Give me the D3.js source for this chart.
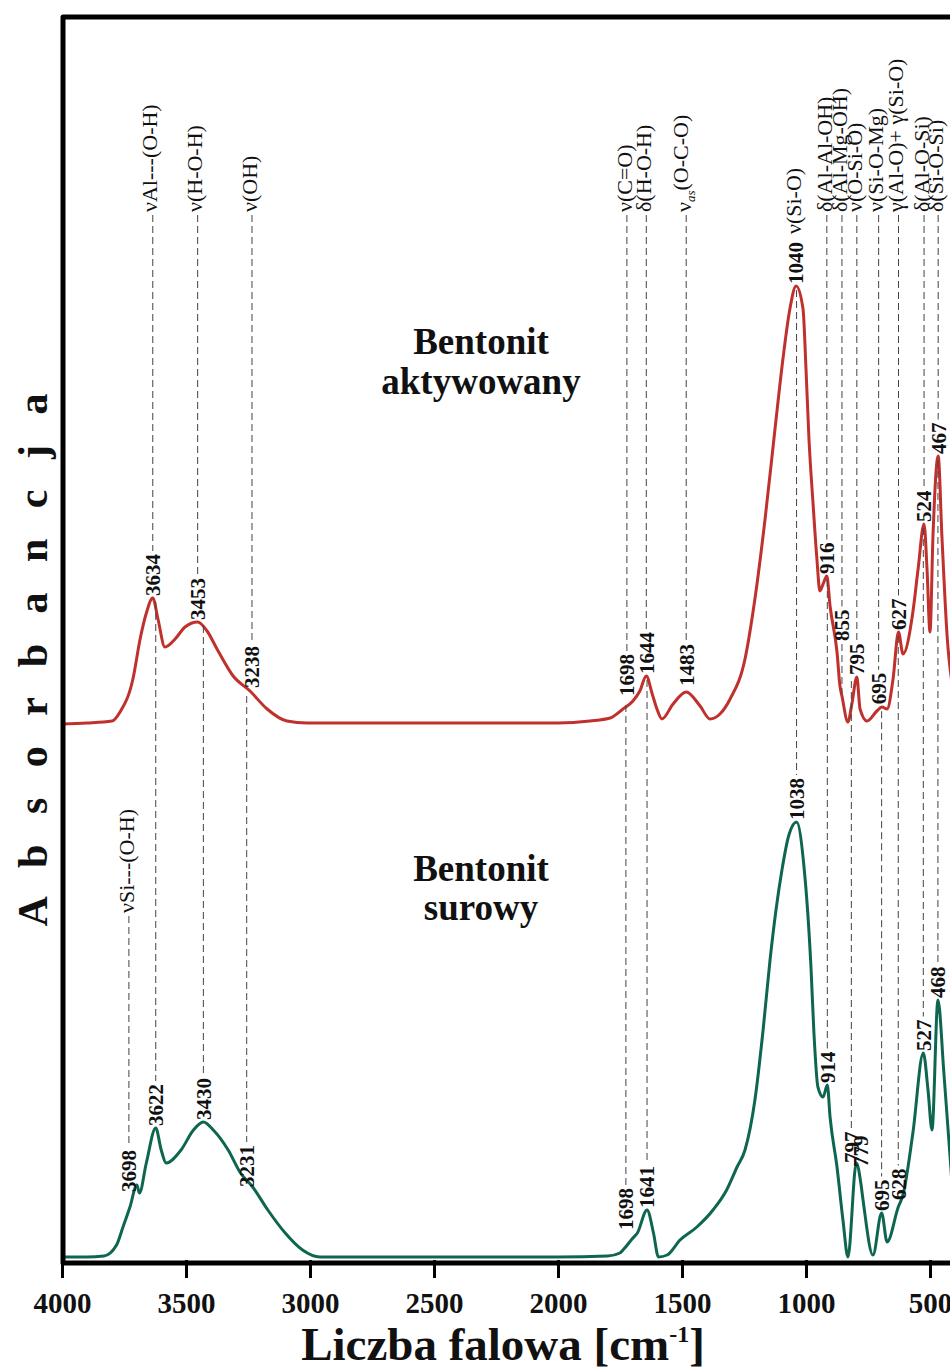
<!DOCTYPE html>
<html>
<head>
<meta charset="utf-8">
<script src="https://cdn.jsdelivr.net/npm/d3@7"></script>
<style>
  body { margin: 0; background: #fff; }
  svg { display: block; }
  text { font-family: "Liberation Serif", "Times New Roman", serif; fill: #111; }
</style>
</head>
<body>
<script>
// FTIR spectra, values (wavenumber in cm-1, absorbance in arbitrary units)

// activated bentonite (drawn on top, shifted up by redOffset)
var redWave = [4000, 3900, 3798, 3766, 3714, 3685, 3661, 3634, 3613, 3585, 3544, 3504, 3453, 3415, 3375, 3310, 3242, 3173, 3093, 3012, 2500, 2000, 1871, 1790, 1738, 1698, 1670, 1644, 1620, 1601, 1581, 1536, 1483, 1427, 1387, 1347, 1306, 1246, 1206, 1165, 1125, 1093, 1065, 1040, 1012, 1000, 988, 972, 956, 944, 931, 916, 903, 875, 863, 855, 831, 815, 795, 782, 754, 714, 694, 673, 649, 627, 609, 569, 548, 524, 512, 500, 488, 467, 452, 431, 400];
var redAbs = [0, 0.001, 0.003, 0.012, 0.045, 0.085, 0.110, 0.126, 0.105, 0.077, 0.085, 0.097, 0.102, 0.093, 0.075, 0.048, 0.033, 0.015, 0.003, 0.001, 0.001, 0.001, 0.003, 0.006, 0.015, 0.023, 0.033, 0.048, 0.030, 0.015, 0.005, 0.020, 0.032, 0.018, 0.005, 0.010, 0.025, 0.065, 0.125, 0.205, 0.295, 0.365, 0.415, 0.438, 0.415, 0.355, 0.285, 0.222, 0.165, 0.133, 0.140, 0.148, 0.118, 0.072, 0.038, 0.028, 0.002, 0.020, 0.047, 0.015, 0.003, 0.013, 0.017, 0.015, 0.045, 0.092, 0.070, 0.112, 0.155, 0.200, 0.155, 0.092, 0.188, 0.268, 0.188, 0.088, 0.025];
var redOffset = 0.533;

// raw bentonite
var greenWave = [4000, 3900, 3831, 3780, 3754, 3726, 3698, 3688, 3660, 3622, 3600, 3580, 3520, 3470, 3430, 3390, 3330, 3280, 3231, 3170, 3100, 3030, 2960, 2500, 2000, 1800, 1750, 1738, 1698, 1680, 1641, 1615, 1595, 1560, 1508, 1440, 1375, 1320, 1278, 1246, 1206, 1173, 1145, 1121, 1097, 1069, 1038, 1008, 980, 968, 952, 931, 914, 903, 875, 851, 831, 797, 779, 770, 730, 695, 673, 628, 609, 569, 527, 508, 492, 468, 444, 416, 400];
var greenAbs = [0, 0, 0.001, 0.012, 0.030, 0.050, 0.072, 0.064, 0.094, 0.129, 0.107, 0.094, 0.107, 0.127, 0.135, 0.127, 0.107, 0.084, 0.070, 0.047, 0.024, 0.007, 0, 0, 0, 0.001, 0.004, 0.007, 0.019, 0.024, 0.047, 0.024, 0, 0.002, 0.017, 0.030, 0.047, 0.067, 0.090, 0.107, 0.157, 0.227, 0.297, 0.347, 0.387, 0.422, 0.435, 0.390, 0.290, 0.224, 0.170, 0.160, 0.172, 0.140, 0.090, 0.037, 0, 0.094, 0.074, 0.057, 0.002, 0.044, 0.015, 0.050, 0.062, 0.124, 0.204, 0.167, 0.127, 0.257, 0.184, 0.090, 0.030];

var xTicks = [4000, 3500, 3000, 2500, 2000, 1500, 1000, 500];

// peak labels
var redPeaks = [3634, 3453, 3238, 1698, 1644, 1483, 1040, 916, 855, 795, 695, 627, 524, 467];
var greenPeaks = [3698, 3622, 3430, 3231, 1698, 1641, 1038, 914, 797, 779, 695, 628, 527, 468];

// band assignments and the peaks each one points at
var bandNames = ["νAl---(O-H)", "ν(H-O-H)", "ν(OH)", "ν(C=O)", "δ(H-O-H)", "νas(O-C-O)", "ν(Si-O)", "δ(Al-Al-OH)", "δ(Al-Mg-OH)", "ν(O-Si-O)", "ν(Si-O-Mg)", "γ(Al-O)+ γ(Si-O)", "δ(Al-O-Si)", "δ(Si-O-Si)"];
var bandRed = [3634, 3453, 3238, 1698, 1644, 1483, 1040, 916, 855, 795, 695, 627, 524, 467];
var bandGreen = [3622, 3430, 3231, 1698, 1641, null, 1038, 914, null, 797, 695, 628, 527, 468];
var extraBand = "νSi---(O-H)";
var extraGreen = 3698;

var width = 950, height = 1369;
var plotTop = 17, plotBottom = 1263, plotLeft = 63;

var svg = d3.select("body").append("svg")
            .attr("width", width)
            .attr("height", height);

var x = d3.scaleLinear().domain([4000, 400]).range([62, 954.8]);
var y = d3.scaleLinear().domain([0, 1]).range([1257, 257]);

var redColor = "#c0302d";
var greenColor = "#0f6650";

// linear lookup of a spectrum at a given wavenumber (for label placement)
function valueAt(waves, vals, wn) {
  for (var i = 0; i < waves.length - 1; i++) {
    if (wn <= waves[i] && wn >= waves[i + 1]) {
      var t = (waves[i] - wn) / (waves[i] - waves[i + 1]);
      return vals[i] + t * (vals[i + 1] - vals[i]);
    }
  }
  return 0;
}

// spectra
var line = d3.line().curve(d3.curveMonotoneX);

svg.append("path")
   .attr("d", line(greenWave.map(function(w, i) { return [x(w), y(greenAbs[i])]; })))
   .attr("fill", "none")
   .attr("stroke", greenColor)
   .attr("stroke-width", 3);

svg.append("path")
   .attr("d", line(redWave.map(function(w, i) { return [x(w), y(redOffset + redAbs[i])]; })))
   .attr("fill", "none")
   .attr("stroke", redColor)
   .attr("stroke-width", 3);

// small hand nudges [dx, lift] so labels sit where they do in the figure
var redNudge = { 3238: [1, 4], 1698: [-6, 5], 1483: [0, 6], 855: [0, 55], 695: [-3, 3] };
var greenNudge = { 3698: [-8, -7], 3231: [-6, 0], 1698: [-7, 8], 797: [-5, 0], 779: [0, 16], 628: [0, 7] };

function peakLabel(wn, offset, waves, vals, nudge) {
  var s = nudge[wn] || [0, 2];
  var curveY = y(offset + valueAt(waves, vals, wn));
  var px = x(wn) + s[0], py = curveY - s[1];
  var t = svg.append("text")
             .attr("transform", "translate(" + px + "," + py + ") rotate(-90)")
             .attr("dy", "0.35em")
             .attr("font-size", 21)
             .attr("font-weight", "bold")
             .text(wn);
  return { x: px, bottom: py, top: py - t.node().getComputedTextLength(), curve: curveY };
}

var redLab = {}, greenLab = {};
redPeaks.forEach(function(p) { redLab[p] = peakLabel(p, redOffset, redWave, redAbs, redNudge); });
greenPeaks.forEach(function(p) { greenLab[p] = peakLabel(p, 0, greenWave, greenAbs, greenNudge); });

function dash(x0, y0, y1) {
  if (y1 - y0 < 2) return;
  svg.append("line")
     .attr("x1", x0).attr("x2", x0)
     .attr("y1", y0).attr("y2", y1)
     .attr("stroke", "#444")
     .attr("stroke-width", 1)
     .attr("stroke-dasharray", "7,4");
}

function bandText(name, px, bottom) {
  var t = svg.append("text")
             .attr("transform", "translate(" + (px - 3) + "," + bottom + ") rotate(-90)")
             .attr("dy", "0.35em")
             .attr("font-size", 22);
  if (name.indexOf("νas") === 0) {
    t.append("tspan").text("ν");
    t.append("tspan").attr("font-size", 13).attr("font-style", "italic").attr("dy", "0.35em").text("as");
    t.append("tspan").attr("dy", "-0.35em").text(name.slice(3));
  } else {
    t.text(name);
  }
}

// band assignment lines
bandNames.forEach(function(name, i) {
  var r = redLab[bandRed[i]];
  var bottom = name === "ν(Si-O)" ? 234 : 212;
  bandText(name, r.x, bottom);
  dash(r.x, bottom + 3, r.top - 3);
  if (r.curve - r.bottom > 20) dash(r.x, r.bottom + 3, r.curve - 3);
  if (bandGreen[i] !== null) {
    var g = greenLab[bandGreen[i]];
    dash(g.x, r.curve + 4, g.top - 3);
  }
});

var g0 = greenLab[extraGreen];
bandText(extraBand, g0.x, 913);
dash(g0.x, 916, g0.top - 3);

// sample names
svg.append("text").attr("x", 481).attr("y", 354).attr("text-anchor", "middle")
   .attr("font-size", 37).attr("font-weight", "bold").text("Bentonit");
svg.append("text").attr("x", 481).attr("y", 394).attr("text-anchor", "middle")
   .attr("font-size", 37).attr("font-weight", "bold").text("aktywowany");
svg.append("text").attr("x", 481).attr("y", 881).attr("text-anchor", "middle")
   .attr("font-size", 37).attr("font-weight", "bold").text("Bentonit");
svg.append("text").attr("x", 481).attr("y", 920).attr("text-anchor", "middle")
   .attr("font-size", 37).attr("font-weight", "bold").text("surowy");

// x axis ticks
var xAxis = d3.axisBottom(x).tickValues(xTicks).tickFormat(d3.format("d")).tickSize(15).tickPadding(14);
var ax = svg.append("g")
            .attr("transform", "translate(0," + plotBottom + ")")
            .call(xAxis);
ax.select(".domain").remove();
ax.selectAll(".tick line").attr("stroke", "#000").attr("stroke-width", 3).attr("y1", -3);
ax.selectAll(".tick text")
  .attr("font-family", "Liberation Serif, serif")
  .attr("font-size", 29)
  .attr("font-weight", "bold")
  .attr("fill", "#000");

// frame
svg.append("path")
   .attr("d", "M960," + plotTop + " L" + plotLeft + "," + plotTop + " L" + plotLeft + "," + plotBottom + " L960," + plotBottom)
   .attr("fill", "none")
   .attr("stroke", "#000")
   .attr("stroke-width", 5)
   .attr("stroke-linejoin", "round");

// axis titles
var xt = svg.append("text")
            .attr("x", 503)
            .attr("y", 1360)
            .attr("text-anchor", "middle")
            .attr("font-size", 47)
            .attr("font-weight", "bold");
xt.append("tspan").text("Liczba falowa [cm");
xt.append("tspan").attr("font-size", 24).attr("dy", -18).text("-1");
xt.append("tspan").attr("dy", 18).text("]");

svg.append("text")
   .attr("transform", "translate(47,655) rotate(-90)")
   .attr("text-anchor", "middle")
   .attr("font-size", 42)
   .attr("font-weight", "bold")
   .attr("letter-spacing", 10)
   .text("A b s o r b a n c j a");
</script>
</body>
</html>
